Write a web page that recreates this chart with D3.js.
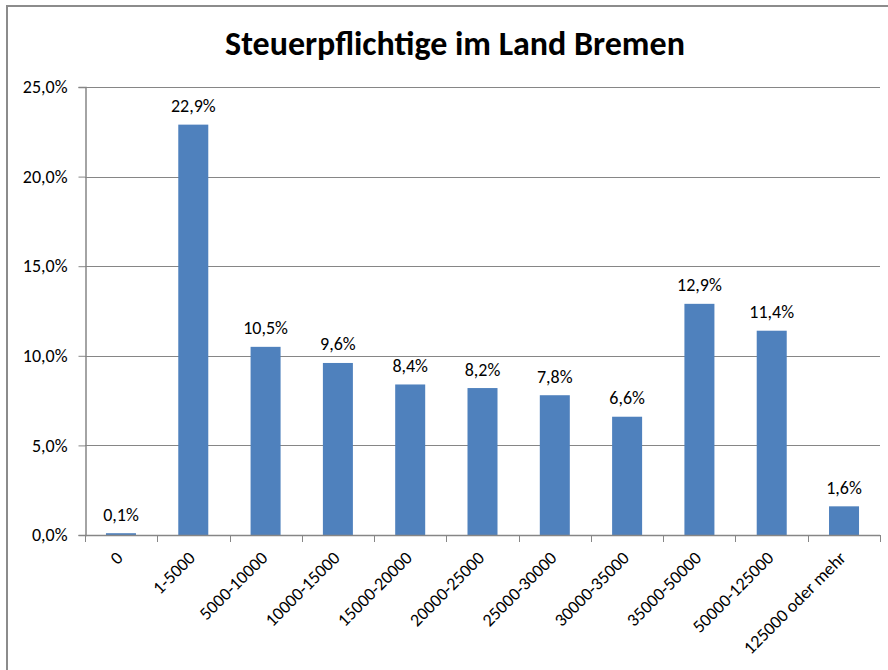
<!DOCTYPE html>
<html>
<head>
<meta charset="utf-8">
<script src="https://cdn.jsdelivr.net/npm/d3@7"></script>
<style>
  body { margin: 0; background: #fff; }
  svg { display: block; }
</style>
</head>
<body>
<svg id="chart" width="888" height="670"></svg>
<script>
// Einkommensklassen (Euro)
const categories = ["0", "1-5000", "5000-10000", "10000-15000", "15000-20000", "20000-25000",
  "25000-30000", "30000-35000", "35000-50000", "50000-125000", "125000 oder mehr"];
// Anteil der Steuerpflichtigen in %
const shares = [0.1, 22.9, 10.5, 9.6, 8.4, 8.2, 7.8, 6.6, 12.9, 11.4, 1.6];
const yTicks = [0, 5, 10, 15, 20, 25];

const title = "Steuerpflichtige im Land Bremen";
const font = "Carlito, Calibri, 'Open Sans', sans-serif";
const pct = d => d3.format(".1f")(d).replace(".", ",") + "%";

const svg = d3.select("#chart");
const margin = { left: 85, top: 87, right: 880, bottom: 535 };

// Rahmen
svg.append("rect")
  .attr("x", 7).attr("y", 6)
  .attr("width", 900).attr("height", 700)
  .attr("fill", "#fff")
  .attr("stroke", "#8c8c8c")
  .attr("stroke-width", 2);

// Titel
svg.append("text")
  .attr("x", 455).attr("y", 55)
  .attr("text-anchor", "middle")
  .attr("font-family", font)
  .attr("font-weight", "bold")
  .attr("font-size", "34px")
  .attr("fill", "#000")
  .text(title);

const x = d3.scaleBand()
  .domain(categories)
  .range([margin.left, margin.right])
  .paddingInner(0.585)
  .paddingOuter(0.29);

const y = d3.scaleLinear()
  .domain([0, 25])
  .range([margin.bottom, margin.top]);

// Gitterlinien
svg.append("g")
  .selectAll("line")
  .data(yTicks.filter(d => d > 0))
  .join("line")
  .attr("x1", margin.left).attr("x2", margin.right)
  .attr("y1", d => Math.round(y(d)) + 0.5).attr("y2", d => Math.round(y(d)) + 0.5)
  .attr("stroke", "#868686")
  .attr("stroke-width", 1);

// Y-Achse
const yAxis = svg.append("g")
  .attr("transform", `translate(${margin.left + 0.5},0)`)
  .call(d3.axisLeft(y).tickValues(yTicks).tickSize(7).tickPadding(11).tickFormat(pct));
yAxis.select(".domain").attr("stroke", "#868686").attr("stroke-width", 1.5);
yAxis.selectAll(".tick line").attr("stroke", "#868686");
yAxis.selectAll("text")
  .attr("font-family", font)
  .attr("font-size", "18px")
  .attr("fill", "#000");

// Balken
svg.append("g")
  .selectAll("rect")
  .data(shares)
  .join("rect")
  .attr("x", (d, i) => x(categories[i]))
  .attr("y", d => y(d))
  .attr("width", x.bandwidth())
  .attr("height", d => y(0) - y(d))
  .attr("fill", "#4f81bd");

// Werte über den Balken
svg.append("g")
  .selectAll("text")
  .data(shares)
  .join("text")
  .attr("x", (d, i) => x(categories[i]) + x.bandwidth() / 2)
  .attr("y", d => y(d) - 12.5)
  .attr("text-anchor", "middle")
  .attr("font-family", font)
  .attr("font-size", "18px")
  .attr("fill", "#000")
  .text(pct);

// X-Achse mit Trennstrichen zwischen den Kategorien
const bandEdges = d3.range(categories.length + 1)
  .map(i => margin.left + i * (margin.right - margin.left) / categories.length);
const xAxis = svg.append("g");
xAxis.append("line")
  .attr("x1", margin.left).attr("x2", margin.right)
  .attr("y1", margin.bottom + 0.5).attr("y2", margin.bottom + 0.5)
  .attr("stroke", "#868686").attr("stroke-width", 1.5);
xAxis.selectAll(".sep")
  .data(bandEdges)
  .join("line")
  .attr("class", "sep")
  .attr("x1", d => Math.round(d) + 0.5).attr("x2", d => Math.round(d) + 0.5)
  .attr("y1", margin.bottom).attr("y2", margin.bottom + 7)
  .attr("stroke", "#868686");

xAxis.selectAll(".lbl")
  .data(categories)
  .join("text")
  .attr("class", "lbl")
  .attr("transform", d => `translate(${x(d) + x.bandwidth() / 2 + 3},${margin.bottom + 24}) rotate(-45)`)
  .attr("text-anchor", "end")
  .attr("font-family", font)
  .attr("font-size", "18px")
  .attr("fill", "#000")
  .text(d => d);
</script>
</body>
</html>
